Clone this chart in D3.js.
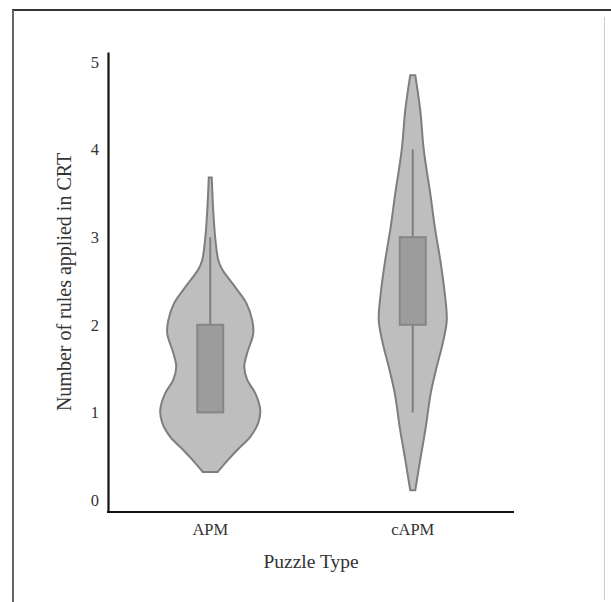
<!DOCTYPE html>
<html>
<head>
<meta charset="utf-8">
<script src="https://cdn.jsdelivr.net/npm/d3@7"></script>
<style>
  html, body { margin: 0; padding: 0; background: #fff; }
  svg { display: block; }
  .tick text { font-family: 'Liberation Serif', serif; font-size: 16.5px; fill: #333; }
</style>
</head>
<body>
<svg id="chart"></svg>
<script>
// ---- data ----------------------------------------------------------------
const categories = ['APM', 'cAPM'];
const yTicks = [0, 1, 2, 3, 4, 5];

// violin outline: value level -> relative half-width
const apmLevels   = [0.32, 0.46, 0.57, 0.72, 0.88, 1.03, 1.22, 1.37, 1.52, 1.68, 1.90, 2.05, 2.25, 2.43, 2.63, 2.74, 2.99, 3.30, 3.68];
const apmWidths   = [0.15, 0.36, 0.54, 0.80, 0.96, 1.00, 0.90, 0.74, 0.68, 0.74, 0.86, 0.84, 0.72, 0.50, 0.24, 0.16, 0.10, 0.06, 0.03];
const capmLevels  = [0.11, 0.46, 0.83, 1.22, 1.52, 1.79, 2.05, 2.36, 2.74, 3.12, 3.50, 4.00, 4.45, 4.85];
const capmWidths  = [0.05, 0.15, 0.26, 0.36, 0.48, 0.60, 0.68, 0.64, 0.55, 0.44, 0.35, 0.22, 0.15, 0.05];

// box plot stats: [whiskerLow, q1, q3, whiskerHigh]
const apmBox  = [1, 1, 2, 3];
const capmBox = [1, 2, 3, 4];

// ---- layout ----------------------------------------------------------------
const W = 611, H = 602;
const svg = d3.select('#chart').attr('width', W).attr('height', H);

// outer frame
svg.append('line').attr('x1', 12).attr('x2', 611).attr('y1', 10).attr('y2', 10)
    .attr('stroke', '#333').attr('stroke-width', 2);
svg.append('line').attr('x1', 13).attr('x2', 13).attr('y1', 10).attr('y2', 602)
    .attr('stroke', '#666').attr('stroke-width', 2);
svg.append('line').attr('x1', 604.5).attr('x2', 604.5).attr('y1', 17).attr('y2', 600)
    .attr('stroke', '#ccc').attr('stroke-width', 1);

const plot = { left: 108, right: 514, top: 52, bottom: 512 };

const x = d3.scaleBand()
    .domain(categories)
    .range([plot.left + 1, plot.right])
    .padding(0);

const y = d3.scaleLinear()
    .domain([-0.137, 5.114])
    .range([plot.bottom, plot.top]);

const w = d3.scaleLinear().domain([0, 1]).range([0, 50]);

const violins = [
    { cat: 'APM',  levels: apmLevels,  widths: apmWidths,  box: apmBox },
    { cat: 'cAPM', levels: capmLevels, widths: capmWidths, box: capmBox },
];

violins.forEach(v => {
    const cx = x(v.cat) + x.bandwidth() / 2;
    const pts = v.levels.map((lv, i) => ({ v: lv, d: v.widths[i] }));

    const area = d3.area()
        .y(d => y(d.v))
        .x0(d => cx - w(d.d))
        .x1(d => cx + w(d.d))
        .curve(d3.curveCatmullRom);

    svg.append('path')
        .datum(pts)
        .attr('d', area)
        .attr('fill', '#bebebe')
        .attr('stroke', '#7e7e7e')
        .attr('stroke-width', 2);

    const [lo, q1, q3, hi] = v.box;
    // whiskers
    svg.append('line')
        .attr('x1', cx).attr('x2', cx)
        .attr('y1', y(hi)).attr('y2', y(lo))
        .attr('stroke', '#7e7e7e').attr('stroke-width', 2);
    // box
    svg.append('rect')
        .attr('x', cx - 13).attr('width', 26)
        .attr('y', y(q3)).attr('height', y(q1) - y(q3))
        .attr('fill', '#9c9c9c')
        .attr('stroke', '#868686')
        .attr('stroke-width', 2);
});

// axes
const gy = svg.append('g')
    .attr('transform', `translate(${plot.left},0)`)
    .call(d3.axisLeft(y).tickValues(yTicks).tickSize(0).tickPadding(9).tickFormat(d3.format('d')));
gy.select('.domain').attr('stroke', '#111').attr('stroke-width', 2.2);

const gx = svg.append('g')
    .attr('transform', `translate(0,${plot.bottom})`)
    .call(d3.axisBottom(x).tickSize(0).tickPadding(11));
gx.select('.domain').attr('stroke', '#111').attr('stroke-width', 2.2)
    .attr('d', `M${plot.left - 1},0H${plot.right}`);

// axis titles
svg.append('text')
    .attr('x', 311).attr('y', 568)
    .attr('text-anchor', 'middle')
    .attr('font-family', 'Liberation Serif, serif')
    .attr('font-size', '19.5px')
    .attr('fill', '#333')
    .text('Puzzle Type');

svg.append('text')
    .attr('transform', `translate(71,${(plot.top + plot.bottom) / 2}) rotate(-90)`)
    .attr('text-anchor', 'middle')
    .attr('font-family', 'Liberation Serif, serif')
    .attr('font-size', '20px')
    .attr('fill', '#333')
    .text('Number of rules applied in CRT');
</script>
</body>
</html>
